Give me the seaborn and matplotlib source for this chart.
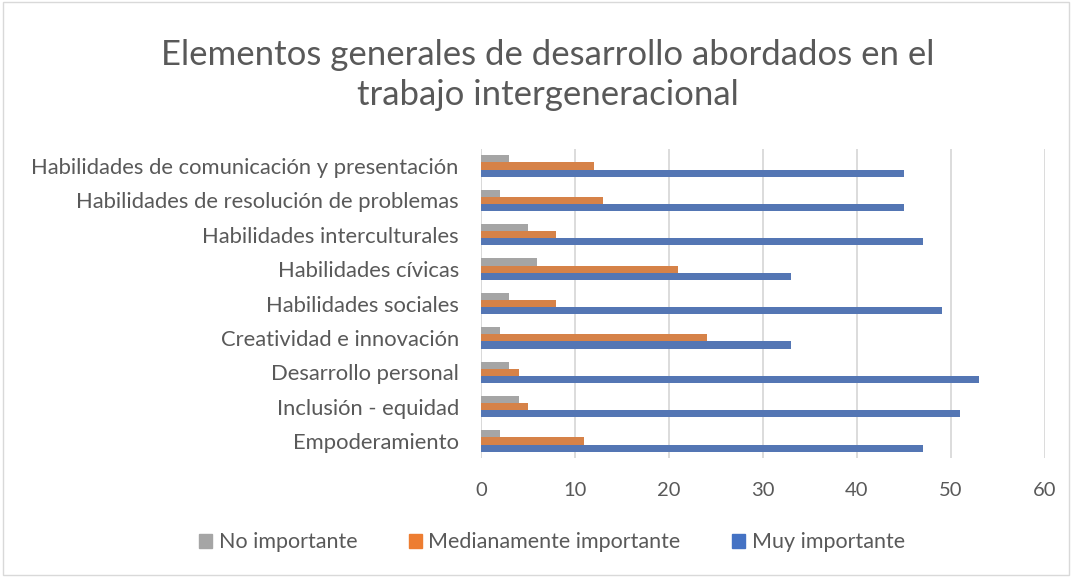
"""
Horizontal grouped bar chart: importance of general development elements
in intergenerational work.
"""

import matplotlib.pyplot as plt
import matplotlib.patches as mpatches
import pandas as pd
import seaborn as sns

CATEGORIES = [
    "Habilidades de comunicación y presentación",
    "Habilidades de resolución de problemas",
    "Habilidades interculturales",
    "Habilidades cívicas",
    "Habilidades sociales",
    "Creatividad e innovación",
    "Desarrollo personal",
    "Inclusión - equidad",
    "Empoderamiento",
]
SERIES = ["No importante", "Medianamente importante", "Muy importante"]
NO_IMPORTANTE = [3, 2, 5, 6, 3, 2, 3, 4, 2]
MEDIANAMENTE = [12, 13, 8, 21, 8, 24, 4, 5, 11]
MUY_IMPORTANTE = [45, 45, 47, 33, 49, 33, 53, 51, 47]
X_TICKS = [0, 10, 20, 30, 40, 50, 60]

COLORS = ["#A5A5A5", "#ED7D31", "#4472C4"]
TEXT = "#595959"
GRID = "#D9D9D9"


def main() -> None:
    sns.set_theme(style="white")
    plt.rcParams["font.family"] = ["Lato", "DejaVu Sans"]

    df = pd.DataFrame({
        "Categoria": CATEGORIES * 3,
        "Serie": [SERIES[0]] * 9 + [SERIES[1]] * 9 + [SERIES[2]] * 9,
        "Valor": NO_IMPORTANTE + MEDIANAMENTE + MUY_IMPORTANTE,
    })

    fig = plt.figure(figsize=(10.72, 5.77), dpi=100)
    ax = fig.add_axes([0.4487, 0.206, 0.5261, 0.536])

    sns.barplot(
        data=df, x="Valor", y="Categoria", hue="Serie",
        order=CATEGORIES, hue_order=SERIES, palette=COLORS,
        width=0.62, orient="h", ax=ax, legend=False,
        edgecolor="none",
    )

    ax.set_xlim(0, 60)
    ax.set_xticks(X_TICKS)
    ax.set_xlabel("")
    ax.set_ylabel("")
    ax.grid(axis="x", color=GRID, linewidth=1.3)
    ax.set_axisbelow(True)
    for side in ["top", "right", "bottom", "left"]:
        ax.spines[side].set_visible(False)
    ax.axvline(0, color=GRID, linewidth=1.3, zorder=0)
    ax.tick_params(axis="both", length=0, colors=TEXT)
    ax.tick_params(axis="x", pad=17, labelsize=14.5)
    ax.tick_params(axis="y", pad=16, labelsize=15.8)

    fig.text(0.511, 0.87, "Elementos generales de desarrollo abordados en el\ntrabajo intergeneracional",
             ha="center", va="center", fontsize=25, color=TEXT, linespacing=1.32)

    handles = [mpatches.Patch(color=c, label=s) for c, s in zip(COLORS, SERIES)]
    fig.legend(handles=handles, loc="center", bbox_to_anchor=(0.515, 0.06), ncol=3,
               frameon=False, fontsize=15.5, labelcolor=TEXT, handlelength=0.6,
               handleheight=0.6, handletextpad=0.3, columnspacing=2.4)

    border = mpatches.Rectangle((0.003, 0.003), 0.994, 0.994, transform=fig.transFigure,
                                fill=False, edgecolor=GRID, linewidth=1)
    fig.patches.append(border)

    fig.savefig("out.png", dpi=100, facecolor="white")
    plt.close(fig)


if __name__ == "__main__":
    main()
